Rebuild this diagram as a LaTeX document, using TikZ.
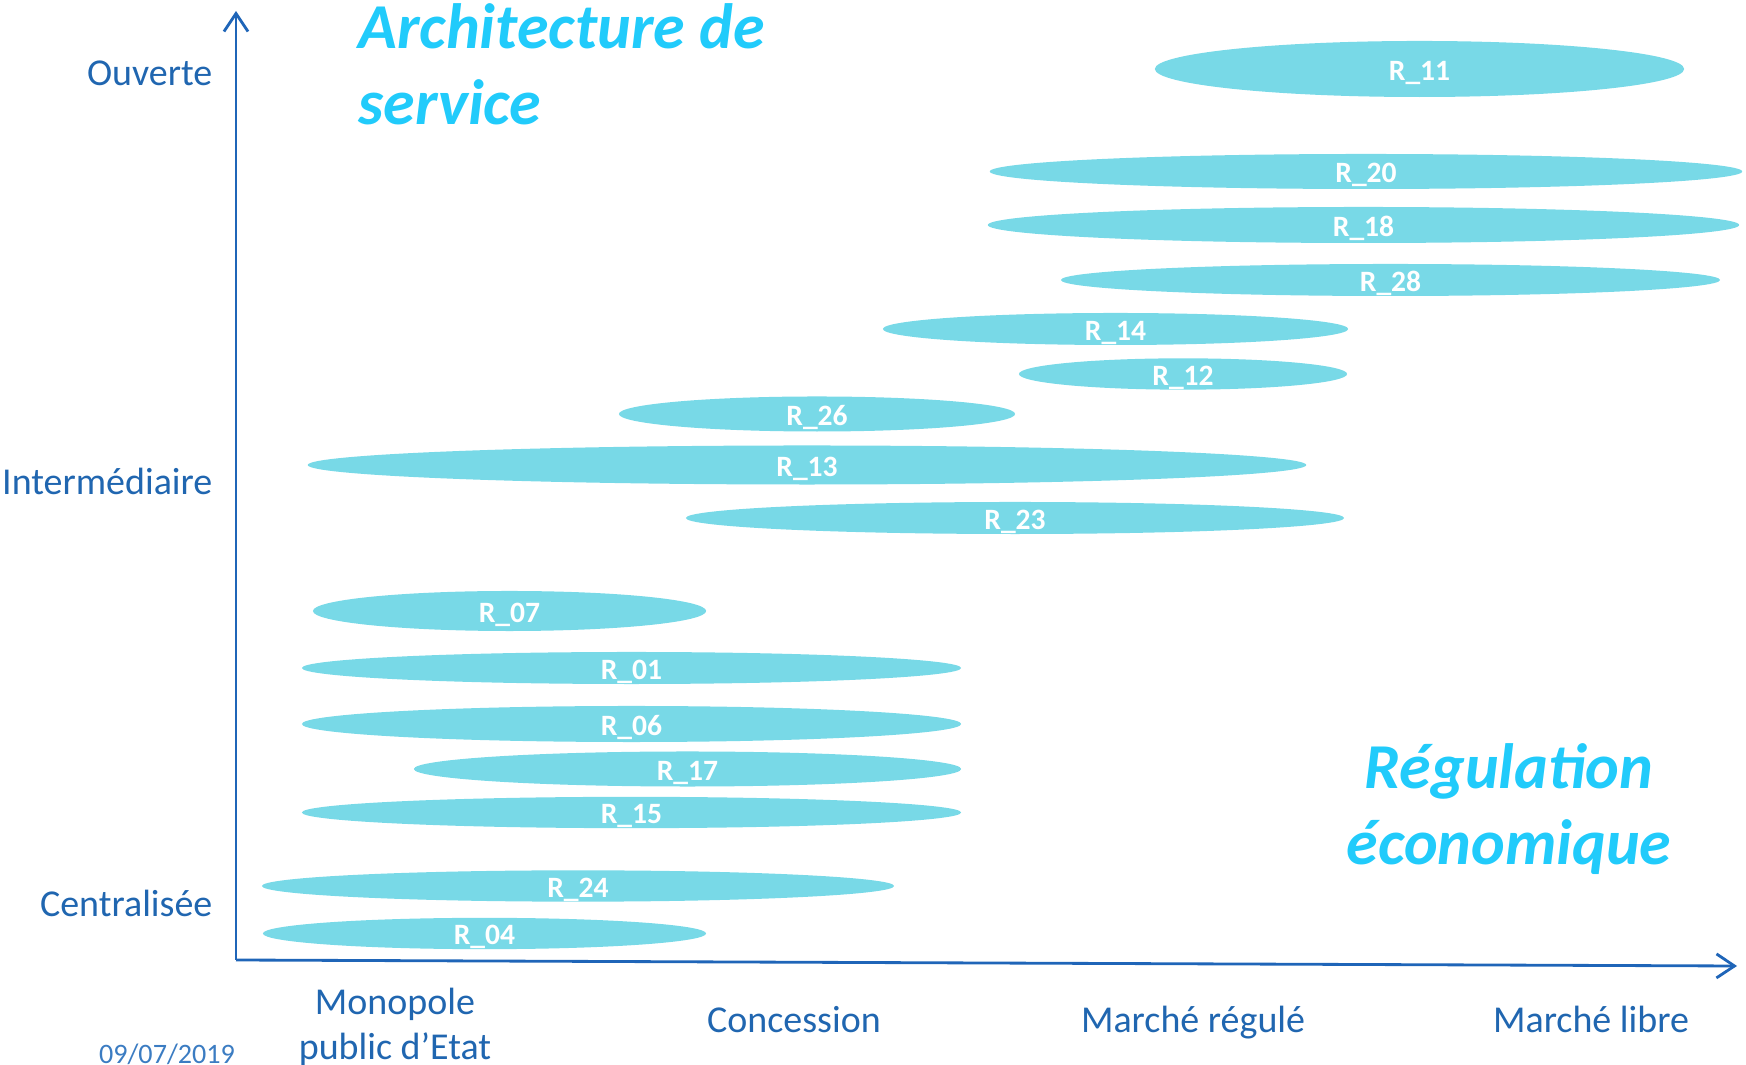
\documentclass[tikz,border=0pt]{standalone}
\usepackage{fontspec}
\setmainfont{Carlito}
\usetikzlibrary{shapes.geometric,arrows.meta}
\definecolor{bandfill}{HTML}{78D9E7}
\definecolor{titlecyan}{HTML}{21CBFB}
\definecolor{axisblue}{HTML}{1F65B8}
\definecolor{labelblue}{HTML}{2066B0}
\definecolor{datecol}{HTML}{3B7CC2}
\tikzset{
  band/.style={ellipse, fill=bandfill, inner sep=0pt, text height=0.63em, text depth=0pt,
    text=white, font=\fontsize{8.4}{10}\selectfont\bfseries},
  axislab/.style={text=labelblue, font=\fontsize{10.8}{12.8}\selectfont},
  bigtitle/.style={text=titlecyan, font=\fontsize{18.2}{21.6}\selectfont\bfseries\itshape},
}
\begin{document}
\begin{tikzpicture}[x=0.01cm, y=-0.01cm, >={Straight Barb[length=1.8mm,width=2.4mm]}]
    \useasboundingbox (0,0) rectangle (1746,1065);
    % axes
    \coordinate (O) at (236,960);
    \coordinate (ytop) at (236,11);
    \coordinate (xend) at (1737,966);
    \draw [->, axisblue, line width=0.8pt](O) -- (ytop);
    \draw [->, axisblue, line width=0.8pt](O) -- (xend);
    % architecture levels
    \node [axislab, anchor=east, inner sep=0pt] (ouv) at (213,73) {Ouverte};
    \node [axislab, anchor=east, inner sep=0pt] (inter) at (213,481) {Intermédiaire};
    \node [axislab, anchor=east, inner sep=0pt] (centr) at (213,903) {Centralisée};
    % regulation levels
    \node [axislab, align=center] (mono) at (395,1027) {Monopole\\public d’Etat};
    \node [axislab, anchor=base] (conc) at (794,1032) {Concession};
    \node [axislab, anchor=base] (mreg) at (1193,1032) {Marché régulé};
    \node [axislab, anchor=base] (mlib) at (1591,1032) {Marché libre};
    \node [text=datecol, font=\fontsize{8}{9}\selectfont] (date) at (167,1054) {09/07/2019};
    % titles
    \node [bigtitle, anchor=west, align=left] (archi) at (346,64) {Architecture de\\service};
    \node [bigtitle, align=center] (regul) at (1509,809.5) {Régulation\\économique};
    % bands
    \node [band, minimum width=5.29cm, minimum height=.56cm] (r11) at (1419.5,69) {R\_11};
    \node [band, minimum width=7.52cm, minimum height=.35cm] (r20) at (1366,171.5) {R\_20};
    \node [band, minimum width=7.51cm, minimum height=.36cm] (r18) at (1363.5,225) {R\_18};
    \node [band, minimum width=6.59cm, minimum height=.32cm] (r28) at (1390.5,280) {R\_28};
    \node [band, minimum width=4.65cm, minimum height=.32cm] (r14) at (1115.5,329) {R\_14};
    \node [band, minimum width=3.28cm, minimum height=.31cm] (r12) at (1183,374) {R\_12};
    \node [band, minimum width=3.96cm, minimum height=.35cm] (r26) at (817,414) {R\_26};
    \node [band, minimum width=9.98cm, minimum height=.39cm] (r13) at (807,465) {R\_13};
    \node [band, minimum width=6.58cm, minimum height=.32cm] (r23) at (1015,518) {R\_23};
    \node [band, minimum width=3.93cm, minimum height=.40cm] (r07) at (509.5,611) {R\_07};
    \node [band, minimum width=6.59cm, minimum height=.32cm] (r01) at (631.5,668) {R\_01};
    \node [band, minimum width=6.59cm, minimum height=.36cm] (r06) at (631.5,724) {R\_06};
    \node [band, minimum width=5.47cm, minimum height=.35cm] (r17) at (687.5,769) {R\_17};
    \node [band, minimum width=6.59cm, minimum height=.31cm] (r15) at (631.5,812.5) {R\_15};
    \node [band, minimum width=6.32cm, minimum height=.26cm] (r24) at (578,886) {R\_24};
    \node [band, minimum width=4.43cm, minimum height=.31cm] (r04) at (484.5,933.5) {R\_04};
\end{tikzpicture}
\end{document}
